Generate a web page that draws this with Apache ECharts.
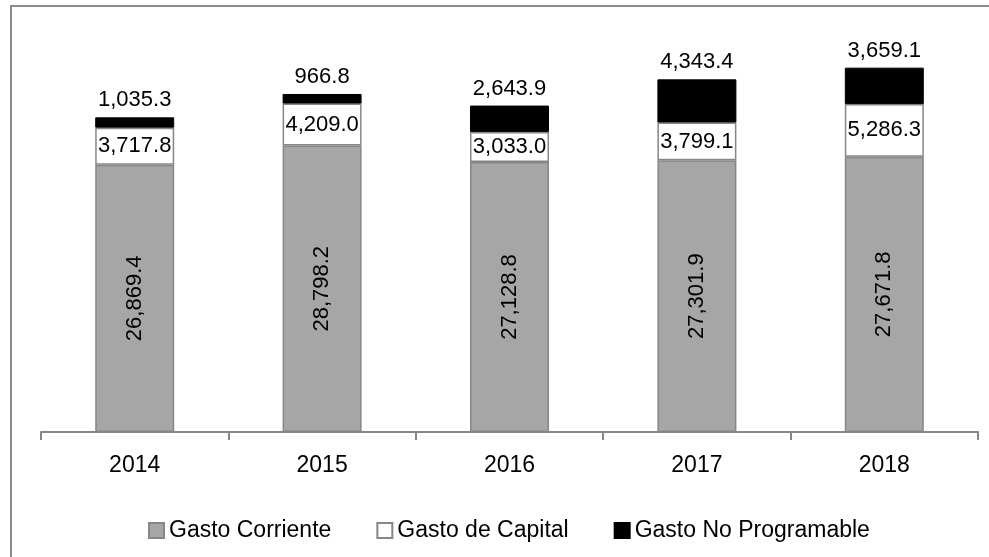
<!DOCTYPE html>
<html>
<head>
<meta charset="utf-8">
<script src="https://cdn.jsdelivr.net/npm/echarts@6/dist/echarts.min.js"></script>
<style>
html,body{margin:0;padding:0;background:#fff;}
#chart{width:989px;height:557px;}
</style>
</head>
<body>
<div id="chart"></div>
<script>
const categories = ['2014', '2015', '2016', '2017', '2018'];
const gastoCorriente = [26869.4, 28798.2, 27128.8, 27301.9, 27671.8];
const gastoCapital = [3717.8, 4209.0, 3033.0, 3799.1, 5286.3];
const gastoNoProgramable = [1035.3, 966.8, 2643.9, 4343.4, 3659.1];
const seriesNames = ['Gasto Corriente', 'Gasto de Capital', 'Gasto No Programable'];

const FONT = '"Liberation Sans", Arial, sans-serif';
function fmt(v) {
  return v.toLocaleString('en-US', {minimumFractionDigits: 1, maximumFractionDigits: 1});
}
const chart = echarts.init(document.getElementById('chart'), null, {renderer: 'canvas'});
const lbl = {fontFamily: FONT, fontSize: 22, color: '#000'};
chart.setOption({
  animation: false,
  backgroundColor: '#fff',
  graphic: [{
    type: 'rect',
    shape: {x: 11, y: 6, width: 1000, height: 600},
    style: {fill: 'none', stroke: '#8c8c8c', lineWidth: 2},
    silent: true
  }],
  grid: {left: 41, right: 11, top: 34, bottom: 125, containLabel: false},
  legend: {
    data: seriesNames,
    left: 143,
    top: 514,
    itemWidth: 15,
    itemHeight: 15,
    itemGap: 45,
    textStyle: {fontFamily: FONT, fontSize: 23, color: '#000'},
    icon: 'rect'
  },
  xAxis: {
    type: 'category',
    data: categories,
    axisLine: {lineStyle: {color: '#868686', width: 2}},
    axisTick: {show: true, length: 8, lineStyle: {color: '#868686', width: 2}},
    axisLabel: {fontFamily: FONT, fontSize: 23, color: '#000', margin: 22}
  },
  yAxis: {type: 'value', min: 0, max: 40000, show: false, splitLine: {show: false}},
  series: [
    {
      name: seriesNames[0], type: 'bar', stack: 't', barWidth: 79,
      data: gastoCorriente,
      itemStyle: {color: '#a6a6a6', borderColor: '#868686', borderWidth: 1.5},
      label: Object.assign({show: true, position: 'inside', rotate: 90,
        formatter: p => fmt(p.value)}, lbl)
    },
    {
      name: seriesNames[1], type: 'bar', stack: 't', barWidth: 79,
      data: gastoCapital,
      itemStyle: {color: '#ffffff', borderColor: '#868686', borderWidth: 1.5},
      label: Object.assign({show: true, position: 'inside',
        formatter: p => fmt(p.value)}, lbl)
    },
    {
      name: seriesNames[2], type: 'bar', stack: 't', barWidth: 79,
      data: gastoNoProgramable,
      itemStyle: {color: '#000000', borderColor: '#000000', borderWidth: 1},
      label: Object.assign({show: true, position: 'top', distance: 6,
        formatter: p => fmt(p.value)}, lbl)
    }
  ]
});
</script>
</body>
</html>
